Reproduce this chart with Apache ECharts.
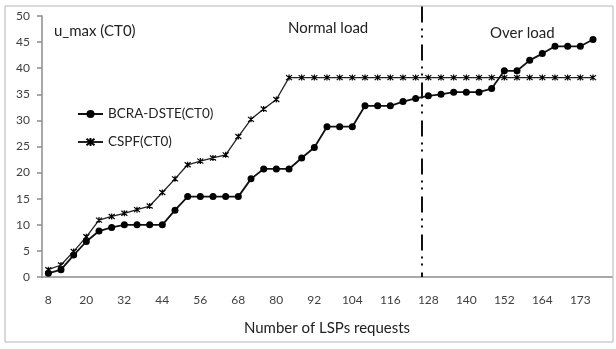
<!DOCTYPE html>
<html>
<head>
<meta charset="utf-8">
<script src="https://cdn.jsdelivr.net/npm/echarts@6/dist/echarts.min.js"></script>
<style>
  html, body { margin: 0; padding: 0; background: #fff; }
  #chart { width: 616px; height: 349px; }
</style>
</head>
<body>
<div id="chart"></div>
<script>
// Number of LSP requests (category axis; every third one is labelled)
const lspRequests = [
  8, 12, 16, 20, 24, 28, 32, 36, 40, 44, 48, 52, 56, 60, 64, 68, 72, 76, 80, 84,
  88, 92, 96, 100, 104, 108, 112, 116, 120, 124, 128, 132, 136, 140, 144, 148,
  152, 156, 160, 164, 167, 170, 173, 176, 179
];

// Maximum utilisation of class type CT0
const bcraDste = [
  0.7, 1.4, 4.2, 6.8, 8.8, 9.5, 10, 10, 10, 10, 12.8, 15.4, 15.4, 15.4, 15.4,
  15.4, 18.8, 20.7, 20.7, 20.7, 22.8, 24.8, 28.8, 28.8, 28.8, 32.8, 32.8, 32.8,
  33.6, 34.2, 34.7, 35.0, 35.4, 35.4, 35.4, 36.1, 39.5, 39.5, 41.5, 42.8, 44.2,
  44.2, 44.2, 45.5, null
];
const cspf = [
  1.4, 2.3, 4.9, 7.7, 10.9, 11.6, 12.2, 12.9, 13.6, 16.2, 18.8, 21.5, 22.2,
  22.8, 23.4, 26.9, 30.2, 32.2, 34.0, 38.2, 38.2, 38.2, 38.2, 38.2, 38.2, 38.2,
  38.2, 38.2, 38.2, 38.2, 38.2, 38.2, 38.2, 38.2, 38.2, 38.2, 38.2, 38.2, 38.2,
  38.2, 38.2, 38.2, 38.2, 38.2, null
];

const yTicks = { min: 0, max: 50, interval: 5 };

// Boundary between normal load and over load (in category slots), drawn top-down
const loadBoundary = [[30, 51.8], [30, 0]];

const FONT = 'Lato';
const TEXT = '#404040';
const AXIS = '#8c8c8c';

const asterisk = 'path://M0,0L10,10M10,0L0,10M5,-1L5,11';

const chart = echarts.init(document.getElementById('chart'), null, { renderer: 'canvas' });

chart.setOption({
  animation: false,
  backgroundColor: '#fff',
  textStyle: { fontFamily: FONT, color: TEXT },
  graphic: [{
    type: 'rect',
    shape: { x: 5, y: 6, width: 608, height: 336 },
    style: { fill: 'none', stroke: '#b4b4b4', lineWidth: 1 },
    silent: true,
    z: -1
  }],
  title: [
    { text: 'u_max (CT0)', left: 49, top: 19,
      textStyle: { fontFamily: FONT, fontSize: 15, fontWeight: 'normal', color: '#222' } },
    { text: 'Normal load', left: 283, top: 16,
      textStyle: { fontFamily: FONT, fontSize: 15, fontWeight: 'normal', color: '#222' } },
    { text: 'Over load', left: 485, top: 21,
      textStyle: { fontFamily: FONT, fontSize: 15, fontWeight: 'normal', color: '#222' } }
  ],
  legend: {
    data: ['BCRA-DSTE(CT0)', 'CSPF(CT0)'],
    orient: 'vertical',
    left: 72,
    top: 102,
    itemWidth: 25,
    itemHeight: 10,
    itemGap: 14,
    textStyle: { fontFamily: FONT, fontSize: 13.5, color: '#222' }
  },
  grid: { left: 42, right: 4, top: 16, bottom: 72, containLabel: false },
  xAxis: [{
    type: 'category',
    data: lspRequests,
    boundaryGap: true,
    axisLine: { lineStyle: { color: AXIS, width: 1.5 } },
    axisTick: { show: false },
    axisLabel: { interval: 2, margin: 17, fontFamily: FONT, fontSize: 12, color: TEXT },
    name: 'Number of LSPs requests',
    nameLocation: 'middle',
    nameGap: 44,
    nameTextStyle: { fontFamily: FONT, fontSize: 15, color: '#222' }
  }, {
    type: 'value',
    min: 0,
    max: lspRequests.length,
    show: false
  }],
  yAxis: {
    type: 'value',
    min: yTicks.min,
    max: yTicks.max,
    interval: yTicks.interval,
    axisLine: { show: true, lineStyle: { color: AXIS, width: 1.5 } },
    axisTick: { show: true, length: 5, lineStyle: { color: AXIS, width: 1.5 } },
    splitLine: { show: false },
    axisLabel: { margin: 12, fontFamily: FONT, fontSize: 12, color: TEXT }
  },
  series: [
    {
      name: 'BCRA-DSTE(CT0)',
      type: 'line',
      data: bcraDste,
      symbol: 'circle',
      symbolSize: 7,
      showAllSymbol: true,
      lineStyle: { color: '#111', width: 1.8 },
      itemStyle: { color: '#000' },
      z: 3
    },
    {
      name: 'CSPF(CT0)',
      type: 'line',
      data: cspf,
      symbol: asterisk,
      symbolSize: 6,
      showAllSymbol: true,
      lineStyle: { color: '#222', width: 1.3 },
      itemStyle: { color: '#000', borderColor: '#000', borderWidth: 1.2 },
      z: 2
    },
    {
      name: 'load boundary',
      type: 'line',
      xAxisIndex: 1,
      data: loadBoundary,
      symbol: 'none',
      clip: false,
      lineStyle: { color: '#111', width: 2, type: [16, 6, 2, 5, 2, 7] },
      z: 1
    }
  ]
});
</script>
</body>
</html>
